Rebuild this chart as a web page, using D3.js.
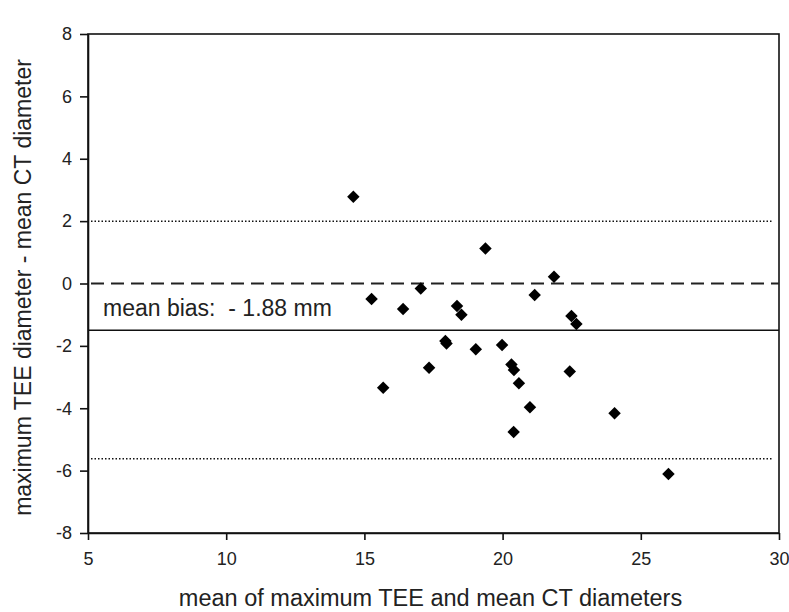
<!DOCTYPE html>
<html>
<head>
<meta charset="utf-8">
<script src="https://cdn.jsdelivr.net/npm/d3@7"></script>
<style>
  body { margin: 0; background: #fff; }
  svg { display: block; }
</style>
</head>
<body>
<div id="chart"></div>
<script>
// Bland-Altman points
const MEAN_DIAM = [14.6, 15.26, 15.68, 16.40, 17.04, 17.34, 17.93, 17.97, 18.35, 18.51, 19.03, 19.38, 19.98,
  20.32, 20.41, 20.40, 20.59, 20.99, 21.16, 21.86, 22.43, 22.49, 22.67, 24.05, 26.0]
const DIFF = [2.78, -0.50, -3.34, -0.82, -0.16, -2.70, -1.84, -1.92, -0.72, -1.00, -2.11, 1.12, -1.97,
  -2.60, -2.77, -4.76, -3.20, -3.97, -0.37, 0.22, -2.82, -1.04, -1.30, -4.16, -6.11]

const X_TICKS = [5, 10, 15, 20, 25, 30]
const Y_TICKS = [8, 6, 4, 2, 0, -2, -4, -6, -8]

const MEAN_LINE = -1.5
const ZERO_LINE = 0
const LIMITS = [2.0, -5.62]
const BIAS_LABEL = 'mean bias:  - 1.88 mm'

const W = 789, H = 612
const margin = { top: 34, right: 10, bottom: 79, left: 88 }
const innerW = W - margin.left - margin.right
const innerH = H - margin.top - margin.bottom

const font = 'Arial, "Liberation Sans", sans-serif'

const svg = d3.select('#chart').append('svg')
  .attr('width', W).attr('height', H)

const g = svg.append('g').attr('transform', `translate(${margin.left},${margin.top})`)

const x = d3.scaleLinear().domain([5, 30]).range([0, innerW])
const y = d3.scaleLinear().domain([-8, 8]).range([innerH, 0])

// frame (top + right)
g.append('rect')
  .attr('x', 0).attr('y', 0).attr('width', innerW).attr('height', innerH)
  .attr('fill', 'none').attr('stroke', '#111').attr('stroke-width', 1.6)

// reference lines
LIMITS.forEach(v => {
  g.append('line')
    .attr('x1', 3).attr('x2', innerW - 6)
    .attr('y1', y(v)).attr('y2', y(v))
    .attr('stroke', '#111').attr('stroke-width', 1.5)
    .attr('stroke-dasharray', '1.5,2')
})

g.append('line')
  .attr('x1', 3).attr('x2', innerW)
  .attr('y1', y(ZERO_LINE)).attr('y2', y(ZERO_LINE))
  .attr('stroke', '#222').attr('stroke-width', 2)
  .attr('stroke-dasharray', '13,7')

g.append('line')
  .attr('x1', 0).attr('x2', innerW)
  .attr('y1', y(MEAN_LINE)).attr('y2', y(MEAN_LINE))
  .attr('stroke', '#111').attr('stroke-width', 1.5)

g.append('text')
  .attr('x', x(5) + 15).attr('y', y(MEAN_LINE) - 14)
  .attr('font-family', font).attr('font-size', 23)
  .attr('fill', '#222')
  .style('white-space', 'pre')
  .text(BIAS_LABEL)

const fmt = d => d < 0 ? '-' + Math.abs(d) : String(d)

// axes
g.append('g')
  .call(d3.axisLeft(y).tickValues(Y_TICKS).tickFormat(fmt).tickSize(8).tickSizeOuter(0).tickPadding(8))
  .call(ax => ax.select('.domain').attr('stroke', '#111').attr('stroke-width', 1.6))
  .call(ax => ax.selectAll('line').attr('stroke', '#111').attr('stroke-width', 1.6))
  .call(ax => ax.selectAll('text').attr('font-family', font).attr('font-size', 18).attr('fill', '#222'))

g.append('g')
  .attr('transform', `translate(0,${innerH})`)
  .call(d3.axisBottom(x).tickValues(X_TICKS).tickSize(7).tickSizeOuter(0).tickPadding(12))
  .call(ax => ax.select('.domain').attr('stroke', '#111').attr('stroke-width', 1.6))
  .call(ax => ax.selectAll('line').attr('stroke', '#111').attr('stroke-width', 1.6))
  .call(ax => ax.selectAll('text').attr('font-family', font).attr('font-size', 18).attr('fill', '#222'))

// points
const pts = MEAN_DIAM.map((m, i) => ({ m, d: DIFF[i] }))
g.selectAll('.pt')
  .data(pts)
  .enter().append('path')
  .attr('class', 'pt')
  .attr('transform', p => `translate(${x(p.m)},${y(p.d)}) rotate(45)`)
  .attr('d', d3.symbol().type(d3.symbolSquare).size(78))
  .attr('fill', '#000')

// axis titles
svg.append('text')
  .attr('x', margin.left + innerW / 2 - 3).attr('y', 606)
  .attr('text-anchor', 'middle')
  .attr('font-family', font).attr('font-size', 23.5).attr('fill', '#222')
  .text('mean of maximum TEE and mean CT diameters')

svg.append('text')
  .attr('transform', `translate(31,${margin.top + innerH / 2 + 4}) rotate(-90)`)
  .attr('text-anchor', 'middle')
  .attr('font-family', font).attr('font-size', 23).attr('fill', '#222')
  .text('maximum TEE diameter - mean CT diameter')
</script>
</body>
</html>
